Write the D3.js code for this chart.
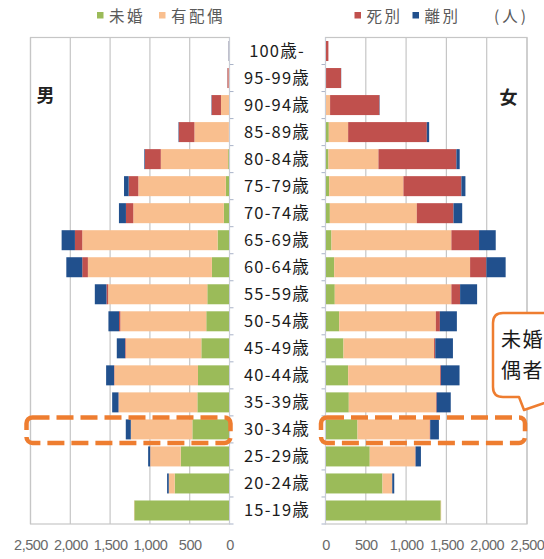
<!DOCTYPE html>
<html>
<head>
<meta charset="utf-8">
<script src="https://cdn.jsdelivr.net/npm/d3@7"></script>
<style>
  html, body { margin: 0; padding: 0; background: #fff; overflow: hidden; }
  svg { display: block; }
</style>
</head>
<body>
<svg id="chart" width="544" height="559"></svg>
<script>
// Age groups, top to bottom
const ages = ["100歳-","95-99歳","90-94歳","85-89歳","80-84歳","75-79歳","70-74歳","65-69歳","60-64歳",
              "55-59歳","50-54歳","45-49歳","40-44歳","35-39歳","30-34歳","25-29歳","20-24歳","15-19歳"];

// Marital status categories (stacked from the centre outward)
const statusKeys = ["未婚","有配偶","死別","離別"];
const statusColors = ["#9bbb59","#f9bf8f","#c0504d","#21508d"];

// Men (人)
const maleSingle   = [0, 0, 3, 8, 17, 46, 71, 150, 221, 279, 292, 354, 396, 404, 467, 613, 688, 1196];
const maleMarried  = [3, 12, 104, 433, 846, 1100, 1138, 1700, 1558, 1246, 1079, 950, 1050, 988, 771, 383, 75, 4];
const maleWidowed  = [5, 14, 117, 196, 200, 121, 92, 92, 71, 21, 17, 8, 4, 3, 2, 1, 0, 0];
const maleDivorced = [3, 1, 4, 5, 8, 58, 88, 167, 200, 146, 133, 104, 100, 79, 63, 25, 21, 0];

// Women (人)
const femaleSingle   = [1, 1, 3, 41, 37, 46, 54, 74, 108, 115, 170, 223, 281, 289, 397, 549, 707, 1430];
const femaleMarried  = [2, 6, 54, 240, 620, 921, 1079, 1488, 1686, 1447, 1199, 1124, 1141, 1083, 897, 566, 120, 5];
const femaleWidowed  = [33, 186, 612, 976, 967, 719, 455, 343, 202, 108, 50, 15, 10, 8, 5, 3, 1, 0];
const femaleDivorced = [0, 2, 4, 29, 41, 50, 108, 207, 239, 211, 211, 219, 231, 174, 108, 66, 25, 0];

// Axis ticks
const tickValues = [0, 500, 1000, 1500, 2000, 2500];
const highlightAge = "30-34歳";

const svg = d3.select("#chart");
const jp = "'Noto Sans CJK JP', 'Noto Sans', sans-serif";
const num = "'Liberation Sans', Arial, sans-serif";
const gridColor = "#c6c6c6";

// Scales
const plotTop = 37.5, plotBottom = 524;
const y = d3.scaleBand().domain(ages).range([plotTop, plotBottom]).paddingInner(0.26).paddingOuter(0.13);
const yOuter = d3.scaleBand().domain(ages).range([plotTop, plotBottom]);
const xL = d3.scaleLinear().domain([0, 2500]).range([229.5, 30.5]);
const xR = d3.scaleLinear().domain([0, 2500]).range([325.5, 527]);

function rows(a, b, c, d) {
  return ages.map((age, i) => ({ age, "未婚": a[i], "有配偶": b[i], "死別": c[i], "離別": d[i] }));
}
const stack = d3.stack().keys(statusKeys);
const maleSeries = stack(rows(maleSingle, maleMarried, maleWidowed, maleDivorced));
const femaleSeries = stack(rows(femaleSingle, femaleMarried, femaleWidowed, femaleDivorced));

function panel(x, series, left) {
  const g = svg.append("g");
  // vertical gridlines
  g.selectAll("line.grid").data(tickValues.filter(t => t > 0)).join("line")
    .attr("x1", d => x(d)).attr("x2", d => x(d))
    .attr("y1", plotTop).attr("y2", plotBottom)
    .attr("stroke", gridColor).attr("stroke-width", 1.2);
  // frame
  const x0 = Math.min(x(0), x(2500)), x1 = Math.max(x(0), x(2500));
  g.append("rect").attr("x", x0).attr("y", plotTop).attr("width", x1 - x0).attr("height", plotBottom - plotTop)
    .attr("fill", "none").attr("stroke", gridColor).attr("stroke-width", 1.2);

  // stacked bars
  series.forEach((s, k) => {
    g.append("g").attr("fill", statusColors[k])
      .selectAll("rect").data(s).join("rect")
      .attr("x", d => Math.min(x(d[0]), x(d[1])))
      .attr("width", d => Math.abs(x(d[1]) - x(d[0])))
      .attr("y", d => y(d.data.age))
      .attr("height", y.bandwidth());
  });

  // category tick marks on the zero axis
  const tickLen = left ? 4 : -4;
  g.selectAll("line.tick").data(ages).join("line")
    .attr("x1", x(0)).attr("x2", x(0) + tickLen)
    .attr("y1", d => yOuter(d) + yOuter.bandwidth())
    .attr("y2", d => yOuter(d) + yOuter.bandwidth())
    .attr("stroke", "#a9b3c8").attr("stroke-width", 1);
  g.append("line").attr("x1", x(0)).attr("x2", x(0)).attr("y1", plotTop).attr("y2", plotBottom)
    .attr("stroke", "#c9cdd6").attr("stroke-width", 1);

  // value axis
  const axis = d3.axisBottom(x).tickValues(tickValues).tickFormat(d3.format(",")).tickSize(0).tickPadding(0);
  const ag = svg.append("g").attr("transform", `translate(0,${plotBottom})`).call(axis);
  ag.select(".domain").remove();
  ag.selectAll("text").attr("y", 25.5).attr("dy", 0)
    .attr("font-family", num).attr("font-size", 14.5).attr("fill", "#6a6a6a")
    .attr("letter-spacing", -0.5);
}

panel(xL, maleSeries, true);
panel(xR, femaleSeries, false);

// age labels in the centre
svg.append("g").selectAll("text").data(ages).join("text")
  .attr("x", 277).attr("y", d => yOuter(d) + yOuter.bandwidth() / 2 + 6)
  .attr("text-anchor", "middle")
  .attr("font-family", jp).attr("font-size", 16.5).attr("letter-spacing", 1.2)
  .attr("fill", "#1c1c1c")
  .text(d => d);

// sex labels
svg.append("text").attr("x", 45.5).attr("y", 102).attr("text-anchor", "middle")
  .attr("font-family", jp).attr("font-size", 18).attr("font-weight", "bold").attr("fill", "#222").text("男");
svg.append("text").attr("x", 508.5).attr("y", 104).attr("text-anchor", "middle")
  .attr("font-family", jp).attr("font-size", 18).attr("font-weight", "bold").attr("fill", "#222").text("女");

// legends
const legendItems = [
  { key: "未婚", x: 97 }, { key: "有配偶", x: 159 },
  { key: "死別", x: 354.5 }, { key: "離別", x: 412.5 }
];
const lg = svg.append("g");
legendItems.forEach(it => {
  const k = statusKeys.indexOf(it.key);
  lg.append("rect").attr("x", it.x).attr("y", 12).attr("width", 6.5).attr("height", 6.5).attr("fill", statusColors[k]);
  lg.append("text").attr("x", it.x + 12).attr("y", 21.5)
    .attr("font-family", jp).attr("font-size", 15.5).attr("letter-spacing", 2.5)
    .attr("fill", "#5a5a5a").text(it.key);
});
lg.append("text").attr("x", 494).attr("y", 21.5)
  .attr("font-family", jp).attr("font-size", 15.5).attr("letter-spacing", 3)
  .attr("fill", "#5a5a5a").text("(人)");

// highlight boxes around the 30-34 age group
const hy0 = yOuter(highlightAge) + 1.5, hy1 = yOuter(highlightAge) + yOuter.bandwidth();
const boxStyle = sel => sel.attr("fill", "none").attr("stroke", "#ee7d30").attr("stroke-width", 4.5)
  .attr("stroke-dasharray", "17,7").attr("rx", 6).attr("ry", 6);
svg.append("rect").attr("x", xL(2500) - 4).attr("y", hy0)
  .attr("width", xL(0) + 1 - (xL(2500) - 4)).attr("height", hy1 - hy0).call(boxStyle);
svg.append("rect").attr("x", xR(0) - 4.5).attr("y", hy0)
  .attr("width", xR(2500) - 2 - (xR(0) - 4.5)).attr("height", hy1 - hy0).call(boxStyle);

// callout bubble
const cb = svg.append("g");
cb.append("path")
  .attr("d", "M503,313 H575 V397 H562 L524,410 L519,397 H503 Q493,397 493,387 V323 Q493,313 503,313 Z")
  .attr("fill", "#fff").attr("stroke", "#ee7d30").attr("stroke-width", 2.5).attr("stroke-linejoin", "round");
cb.append("text").attr("x", 501).attr("y", 347)
  .attr("font-family", jp).attr("font-size", 20).attr("letter-spacing", 1.5).attr("fill", "#1a1a1a").text("未婚");
cb.append("text").attr("x", 501).attr("y", 378)
  .attr("font-family", jp).attr("font-size", 20).attr("letter-spacing", 1.5).attr("fill", "#1a1a1a").text("偶者");
</script>
</body>
</html>
